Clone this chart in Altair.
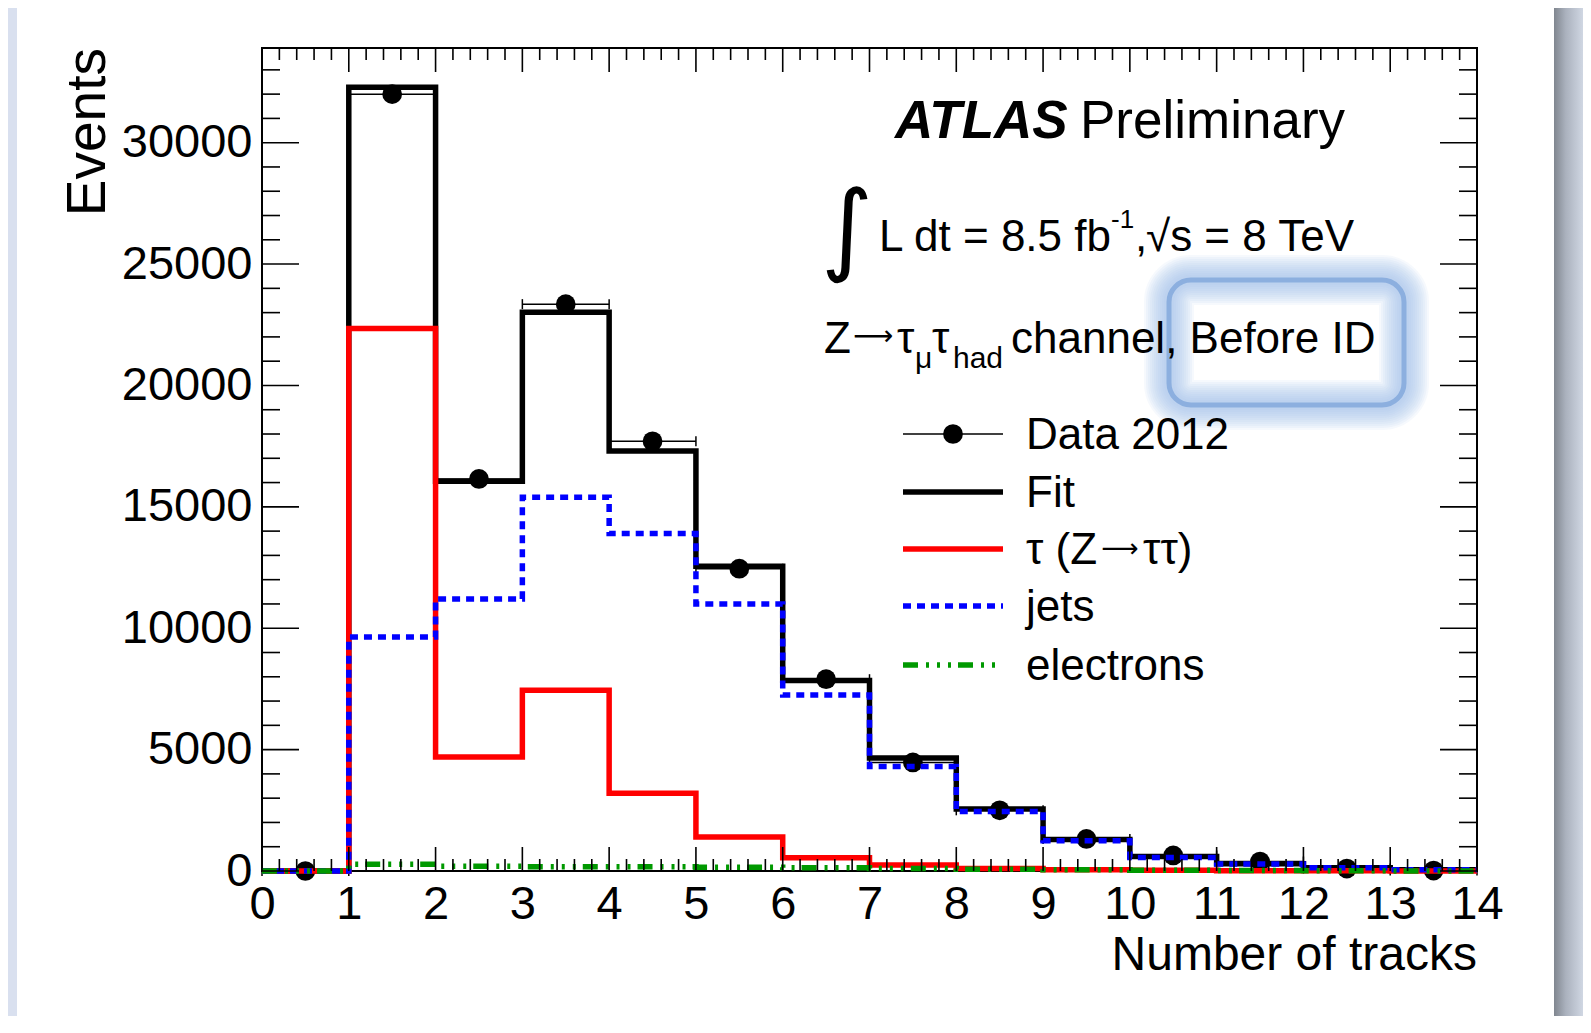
import altair as alt
import pandas as pd

# ---------------- data ----------------
edges = list(range(15))                      # bin edges, number of tracks
centers = [i + 0.5 for i in range(14)]       # bin centres
data_counts = [0, 32000, 16150, 23350, 17700, 12450, 7900, 4470, 2500, 1320, 640, 390, 100, 20]
fit_vals = [0, 32280, 16050, 23020, 17300, 12550, 7850, 4650, 2550, 1300, 600, 300, 130, 50]
tau_vals = [0, 22350, 4700, 7450, 3200, 1400, 550, 250, 100, 50, 30, 15, 8, 4]
jets_vals = [0, 9640, 11200, 15400, 13900, 11000, 7250, 4300, 2450, 1250, 560, 290, 130, 50]
ele_vals = [0, 280, 200, 180, 170, 150, 130, 100, 70, 50, 30, 20, 10, 5]

x_tick_values = list(range(15))
x_minor_values = [round(i * 0.2, 1) for i in range(71) if i % 5 != 0]
y_tick_values = [0, 5000, 10000, 15000, 20000, 25000, 30000]
y_minor_values = [i * 1000 for i in range(34) if i % 5 != 0]

legend_labels = ["Data 2012", "Fit", "τ (Z→ττ)", "jets", "electrons"]

# ---------------- layout ----------------
W, H = 1215, 823
LEFT, TOP = 262, 48          # page position of plot origin
FONT = "Liberation Sans"
ARROW = "⟶"                 # long arrow glyph used for "→"


def px(x):
    return x - LEFT


def py(y):
    return y - TOP


xs = alt.Scale(domain=[0, 14], nice=False, zero=False)
ys = alt.Scale(domain=[0, 33900], nice=False, zero=False)
one = alt.Data(values=[{"a": 1}])

XAX = alt.Axis(values=x_tick_values, title=None, domain=False, ticks=False, grid=False,
               labelFontSize=47, labelFont=FONT, labelColor="black", labelPadding=47,
               labelBaseline="alphabetic", labelFlush=False, labelOverlap=False)
YAX = alt.Axis(values=y_tick_values, title=None, domain=False, ticks=False, grid=False,
               labelFontSize=47, labelFont=FONT, labelColor="black", labelPadding=10,
               labelBaseline="middle", format="d", labelFlush=False, labelOverlap=False)

BLUE_DASH = [8, 6]
GREEN_DASH = [15, 8, 3, 8, 3, 8, 3, 7]


def step_layer(vals, color, dash=None, width=5.5):
    df = pd.DataFrame({"edge": edges, "val": vals + [vals[-1]]})
    kw = dict(color=color, strokeWidth=width, interpolate="step-after",
              strokeJoin="miter", strokeCap="butt")
    if dash:
        kw["strokeDash"] = dash
    return alt.Chart(df).mark_line(**kw).encode(
        x=alt.X("edge:Q", scale=xs, axis=XAX),
        y=alt.Y("val:Q", scale=ys, axis=YAX))


def txt(s, x, y, size, align="left", font=FONT, **kw):
    return alt.Chart(one).mark_text(text=s, font=font, fontSize=size, align=align,
                                    baseline="alphabetic", color="black", **kw).encode(
        x=alt.value(px(x)), y=alt.value(py(y)))


def seg(x1, x2, y, color, width, dash=None):
    kw = dict(color=color, strokeWidth=width, strokeCap="butt")
    if dash:
        kw["strokeDash"] = dash
    return alt.Chart(one).mark_rule(**kw).encode(
        x=alt.value(px(x1)), x2=alt.value(px(x2)), y=alt.value(py(y)))


layers = []

# page side bands
layers.append(alt.Chart(one).mark_rect(color="#d9e0ef").encode(
    x=alt.value(-254), x2=alt.value(-245), y=alt.value(-40), y2=alt.value(H + 150)))
layers.append(alt.Chart(one).mark_rect(fill=alt.LinearGradient(
    gradient="linear", x1=0, x2=1, y1=0, y2=0,
    stops=[alt.GradientStop(color="#80868f", offset=0),
           alt.GradientStop(color="#aab1bd", offset=0.4),
           alt.GradientStop(color="#d0d7e3", offset=1)])).encode(
    x=alt.value(px(1554)), x2=alt.value(px(1583)), y=alt.value(-40), y2=alt.value(H + 150)))

# blue glow highlight box (soft halo built from many faint strokes)
gx1, gx2, gy1, gy2 = px(1169), px(1404), py(280), py(405)
for w in range(50, 6, -4):
    layers.append(alt.Chart(one).mark_rect(fillOpacity=0, stroke="#a2c3ef", strokeWidth=w,
                                           strokeOpacity=0.095, cornerRadius=22).encode(
        x=alt.value(gx1), x2=alt.value(gx2), y=alt.value(gy1), y2=alt.value(gy2)))
layers.append(alt.Chart(one).mark_rect(fillOpacity=0, stroke="#8cafdf", strokeWidth=5,
                                       cornerRadius=22).encode(
    x=alt.value(gx1), x2=alt.value(gx2), y=alt.value(gy1), y2=alt.value(gy2)))

# fit histogram
layers.append(step_layer(fit_vals, "black"))

# data points with horizontal bin-width error bars
ddf = pd.DataFrame({"c": centers, "lo": edges[:-1], "hi": edges[1:], "n": data_counts})
layers.append(alt.Chart(ddf).mark_rule(color="black", strokeWidth=1.5).encode(
    x=alt.X("lo:Q", scale=xs, axis=XAX), x2="hi:Q", y=alt.Y("n:Q", scale=ys, axis=YAX)))
cdf = pd.DataFrame({"e": edges[:-1] + edges[1:], "n": data_counts + data_counts})
layers.append(alt.Chart(cdf).mark_tick(orient="vertical", size=10, thickness=1.5,
                                       color="black", opacity=1).encode(
    x=alt.X("e:Q", scale=xs, axis=XAX), y=alt.Y("n:Q", scale=ys, axis=YAX)))
layers.append(alt.Chart(ddf).mark_point(filled=True, shape="circle", size=390,
                                        color="black", opacity=1).encode(
    x=alt.X("c:Q", scale=xs, axis=XAX), y=alt.Y("n:Q", scale=ys, axis=YAX)))

# component histograms
layers.append(step_layer(tau_vals, "#ff0000"))
layers.append(step_layer(jets_vals, "#0000ff", dash=BLUE_DASH))
layers.append(step_layer(ele_vals, "#009900", dash=GREEN_DASH))


# ROOT-style inward ticks on all four sides
def xticks(vals, length, top):
    df = pd.DataFrame({"t": vals})
    y1, y2 = (0, length) if top else (H, H - length)
    return alt.Chart(df).mark_rule(color="black", strokeWidth=1.6).encode(
        x=alt.X("t:Q", scale=xs, axis=XAX), y=alt.value(y1), y2=alt.value(y2))


def yticks(vals, length, right):
    df = pd.DataFrame({"t": vals})
    x1, x2 = (W, W - length) if right else (0, length)
    return alt.Chart(df).mark_rule(color="black", strokeWidth=1.6).encode(
        y=alt.Y("t:Q", scale=ys, axis=YAX), x=alt.value(x1), x2=alt.value(x2))


for top in (False, True):
    layers.append(xticks(x_tick_values, 24, top))
    layers.append(xticks(x_minor_values, 12, top))
for right in (False, True):
    layers.append(yticks(y_tick_values, 37, right))
    layers.append(yticks(y_minor_values, 18, right))

# axis titles
layers.append(txt("Number of tracks", 1477, 970, 48, align="right"))
layers.append(alt.Chart(one).mark_text(text="Events", font=FONT, fontSize=55, align="right",
                                       baseline="alphabetic", angle=270, color="black").encode(
    x=alt.value(px(105)), y=alt.value(0)))

# ATLAS label
layers.append(txt("ATLAS", 895, 138, 53, fontWeight="bold", fontStyle="italic"))
layers.append(txt("Preliminary", 1080, 138, 53))

# luminosity line
layers.append(txt("∫", 847, 262, 100, align="center", font="DejaVu Sans"))
layers.append(txt("L dt = 8.5 fb", 879, 251, 44))
layers.append(txt("-1", 1111, 228, 26))
layers.append(txt(",", 1135, 251, 44))
layers.append(txt("√s = 8 TeV", 1146, 251, 44))

# channel line
layers.append(txt("Z", 824, 353, 44))
layers.append(txt(ARROW, 873, 345, 28, align="center", font="DejaVu Sans"))
layers.append(txt("τ", 897, 353, 44))
layers.append(txt("μ", 915, 368, 30))
layers.append(txt("τ", 932, 353, 44))
layers.append(txt("had", 953, 368, 30))
layers.append(txt("channel, Before ID", 1011, 353, 44))

# legend
rows = [434, 492, 549, 606, 665]
LX1, LX2, LT = 903, 1003, 1026
layers.append(seg(LX1, LX2, rows[0], "black", 1.5))
layers.append(alt.Chart(one).mark_point(filled=True, shape="circle", size=390, color="black",
                                        opacity=1).encode(
    x=alt.value(px(953)), y=alt.value(py(rows[0]))))
layers.append(seg(LX1, LX2, rows[1], "black", 5.5))
layers.append(seg(LX1, LX2, rows[2], "#ff0000", 5.5))
layers.append(seg(LX1, LX2, rows[3], "#0000ff", 5.5, BLUE_DASH))
layers.append(seg(LX1, LX2, rows[4], "#009900", 5.5, GREEN_DASH))
for lab, r in zip(legend_labels, rows):
    if "→" in lab:
        left_part, right_part = lab.split("→")
        layers.append(txt(left_part, LT, r + 15, 44))
        layers.append(txt(ARROW, 1120, r + 8, 26, align="center", font="DejaVu Sans"))
        layers.append(txt(right_part, 1143, r + 15, 44))
    else:
        layers.append(txt(lab, LT, r + 15, 44))

chart = alt.layer(*layers).properties(
    width=W, height=H,
    padding={"left": 254, "top": 40, "right": 106, "bottom": 145},
    autosize=alt.AutoSizeParams(type="none"),
    background="white",
).configure_view(stroke="black", strokeWidth=2)

chart.save("out.html", embed_options={"renderer": "svg", "actions": False})
